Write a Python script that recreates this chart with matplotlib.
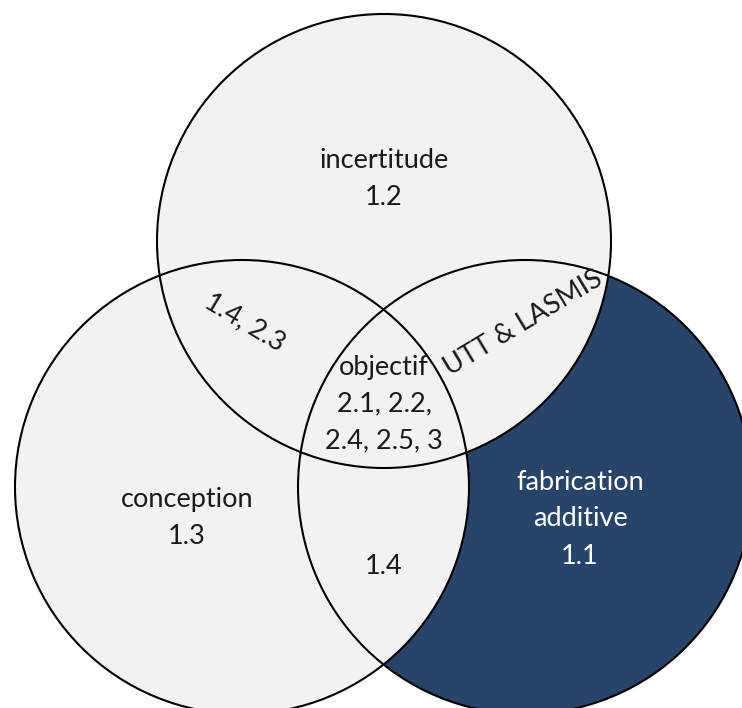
import matplotlib
matplotlib.use("Agg")
import matplotlib.pyplot as plt
from matplotlib.patches import Circle
import numpy as np

# Data
set_names = ["incertitude", "conception", "fabrication\nadditive"]
set_codes = ["1.2", "1.3", "1.1"]
region_top_left = "1.4, 2.3"
region_top_right = "UTT & LASMIS"
region_left_right = "1.4"
region_center = "objectif\n2.1, 2.2,\n2.4, 2.5, 3"

# Layout (pixel coordinates)
W, H = 742, 708
R = 227
centers = {"top": (384, 241), "left": (242, 487), "right": (525, 487)}
GRAY = "#f2f2f2"
NAVY = "#284468"
FONT = "Lato"
FS = 19.5

fig = plt.figure(figsize=(W / 100, H / 100), dpi=100)
ax = fig.add_axes([0, 0, 1, 1])
ax.set_xlim(0, W)
ax.set_ylim(H, 0)
ax.axis("off")

ax.add_patch(Circle(centers["right"], R, facecolor=NAVY, edgecolor="none"))
ax.add_patch(Circle(centers["top"], R, facecolor=GRAY, edgecolor="none"))
ax.add_patch(Circle(centers["left"], R, facecolor=GRAY, edgecolor="none"))
for c in centers.values():
    ax.add_patch(Circle(c, R, facecolor="none", edgecolor="black", linewidth=1.5))

kw = dict(ha="center", va="center", fontsize=FS, family=FONT, fontweight="normal", linespacing=1.6)
ax.text(384, 179, set_names[0] + "\n" + set_codes[0], color="#1a1a1a", **kw)
ax.text(187, 518, set_names[1] + "\n" + set_codes[1], color="#1a1a1a", **kw)
ax.text(580, 519, set_names[2] + "\n" + set_codes[2], color="white", **kw)
ax.text(384, 404, region_center, color="#1a1a1a", **kw)
ax.text(384, 567, region_left_right, color="#1a1a1a", **kw)
ax.text(245, 322, region_top_left, color="#1a1a1a", rotation=-31, rotation_mode="anchor", **kw)
ax.text(523, 323, region_top_right, color="#1a1a1a", rotation=31, rotation_mode="anchor", **kw)

fig.savefig("out.png", dpi=100)
